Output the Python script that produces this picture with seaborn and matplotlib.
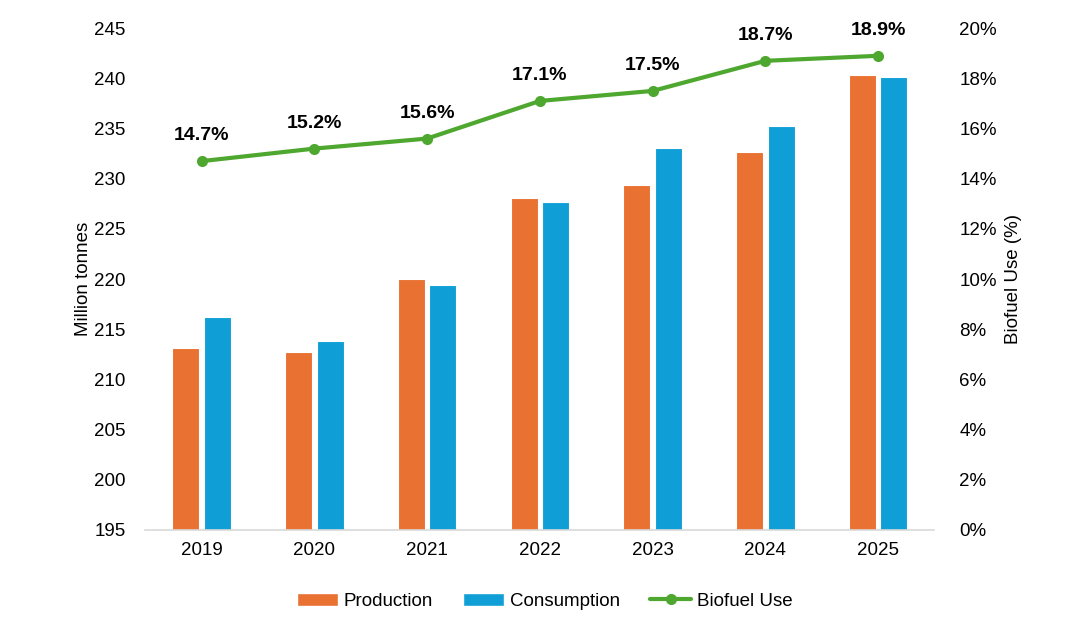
import pandas as pd
import matplotlib
matplotlib.use("Agg")
import matplotlib.pyplot as plt
import seaborn as sns
from matplotlib.ticker import FuncFormatter
from matplotlib.patches import Patch
from matplotlib.lines import Line2D

years = ["2019", "2020", "2021", "2022", "2023", "2024", "2025"]
production = [213.1, 212.7, 220.0, 228.1, 229.4, 232.7, 240.3]
consumption = [216.2, 213.8, 219.4, 227.7, 233.1, 235.3, 240.1]
biofuel_use = [14.7, 15.2, 15.6, 17.1, 17.5, 18.7, 18.9]

ORANGE = "#E97132"
BLUE = "#0F9ED5"
GREEN = "#4EA72E"

sns.set_style("white")
plt.rcParams["font.family"] = ["Liberation Sans", "DejaVu Sans"]
plt.rcParams["text.color"] = "black"
plt.rcParams["axes.labelcolor"] = "black"
plt.rcParams["xtick.color"] = "black"
plt.rcParams["ytick.color"] = "black"

df = pd.DataFrame({"Year": years, "Production": production, "Consumption": consumption})
long = df.melt(id_vars="Year", var_name="Series", value_name="Value")

fig = plt.figure(figsize=(10.68, 6.27), dpi=100)
ax = fig.add_axes([0.136, 0.155, 0.739, 0.80])

sns.barplot(data=long, x="Year", y="Value", hue="Series", order=years,
            hue_order=["Production", "Consumption"],
            palette=[ORANGE, BLUE], saturation=1, width=0.56, gap=0.14,
            edgecolor="white", linewidth=0.8, ax=ax, legend=False)

ax.set_ylim(195, 245)
ax.set_yticks(range(195, 246, 5))
ax.set_xlim(-0.5, 6.5)
ax.set_xlabel("")
ax.set_ylabel("Million tonnes", fontsize=13.5, labelpad=2)
ax.tick_params(axis="both", labelsize=13.5, length=0)
ax.tick_params(axis="y", pad=14)
ax.tick_params(axis="x", pad=9)
for s in ["top", "right", "left"]:
    ax.spines[s].set_visible(False)
ax.spines["bottom"].set_color("#D9D9D9")
ax.spines["bottom"].set_linewidth(1.2)

ax2 = ax.twinx()
sns.lineplot(x=list(range(len(years))), y=biofuel_use, ax=ax2, color=GREEN,
             linewidth=3, marker="o", markersize=8, markeredgewidth=0)
ax2.set_ylim(0, 20)
ax2.set_yticks(range(0, 21, 2))
ax2.yaxis.set_major_formatter(FuncFormatter(lambda v, p: f"{v:.0f}%"))
ax2.set_ylabel("Biofuel Use (%)", fontsize=13.5, labelpad=6)
ax2.tick_params(axis="y", labelsize=13.5, length=0, pad=18)
for s in ["top", "right", "left", "bottom"]:
    ax2.spines[s].set_visible(False)

for i, v in enumerate(biofuel_use):
    ax2.annotate(f"{v}%", (i, v), xytext=(0, 12), textcoords="offset points",
                 ha="center", va="bottom", fontsize=14, fontweight="bold")

handles = [Patch(facecolor=ORANGE, label="Production"),
           Patch(facecolor=BLUE, label="Consumption"),
           Line2D([0], [0], color=GREEN, lw=3, marker="o", markersize=7, label="Biofuel Use")]
fig.legend(handles=handles, loc="center", bbox_to_anchor=(0.51, 0.041), ncol=3,
           frameon=False, fontsize=13.5, handlelength=2.2, handletextpad=0.3,
           columnspacing=1.6)

fig.savefig("out.png", dpi=100)
